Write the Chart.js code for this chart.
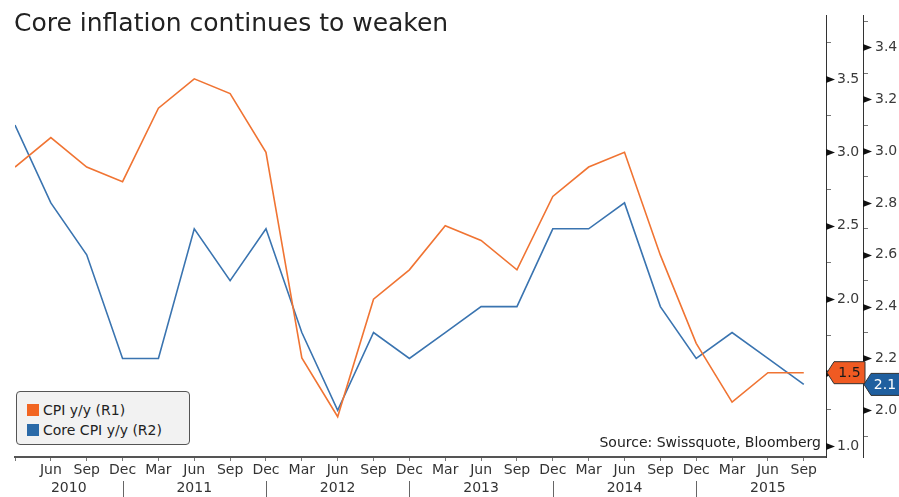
<!DOCTYPE html>
<html lang="en">
<head>
    <meta charset="UTF-8">
    <title>Core inflation continues to weaken</title>
    <script src="https://cdn.jsdelivr.net/npm/chart.js"></script>
    <style>
        body {
            margin: 0;
            background-color: #ffffff;
            font-family: "DejaVu Sans", sans-serif;
        }
        .wrap {
            position: relative;
            width: 899px;
            height: 497px;
        }
        .title {
            position: absolute;
            left: 14px;
            top: 8px;
            font-size: 25px;
            color: #222;
            white-space: nowrap;
        }
        .legend {
            position: absolute;
            left: 16px;
            top: 391px;
            width: 174px;
            height: 54px;
            border: 1px solid #555;
            border-radius: 4px;
            background-color: #f2f2f2;
            font-size: 14px;
            color: #222;
            padding: 8px 0 0 10px;
            box-sizing: border-box;
        }
        .legend div {
            height: 20px;
            line-height: 20px;
            white-space: nowrap;
        }
        .legend span.sw {
            display: inline-block;
            width: 12px;
            height: 12px;
            margin-right: 4px;
            vertical-align: -1px;
        }
        .source {
            position: absolute;
            right: 78px;
            top: 434px;
            font-size: 14px;
            color: #222;
            white-space: nowrap;
        }
    </style>
</head>
<body>
    <div class="wrap">
        <canvas id="cpiChart" width="899" height="497"></canvas>
        <div class="title">Core inflation continues to weaken</div>
        <div class="legend" id="legend"></div>
        <div class="source">Source: Swissquote, Bloomberg</div>
    </div>

    <script>
        // quarterly observations, Mar 2010 .. Sep 2015
        const months = ['Mar', 'Jun', 'Sep', 'Dec'];
        const years = ['2010', '2011', '2012', '2013', '2014', '2015'];
        const quarters = [
            'Mar 2010', 'Jun 2010', 'Sep 2010', 'Dec 2010',
            'Mar 2011', 'Jun 2011', 'Sep 2011', 'Dec 2011',
            'Mar 2012', 'Jun 2012', 'Sep 2012', 'Dec 2012',
            'Mar 2013', 'Jun 2013', 'Sep 2013', 'Dec 2013',
            'Mar 2014', 'Jun 2014', 'Sep 2014', 'Dec 2014',
            'Mar 2015', 'Jun 2015', 'Sep 2015'
        ];

        const cpi = [2.9, 3.1, 2.9, 2.8, 3.3, 3.5, 3.4, 3.0,
                     1.6, 1.2, 2.0, 2.2, 2.5, 2.4, 2.2, 2.7,
                     2.9, 3.0, 2.3, 1.7, 1.3, 1.5, 1.5];
        const coreCpi = [3.1, 2.8, 2.6, 2.2, 2.2, 2.7, 2.5, 2.7,
                         2.3, 2.0, 2.3, 2.2, 2.3, 2.4, 2.4, 2.7,
                         2.7, 2.8, 2.4, 2.2, 2.3, 2.2, 2.1];

        // labelled ticks on the two right-hand axes
        const r1Ticks = [1.0, 1.5, 2.0, 2.5, 3.0, 3.5];
        const r2Ticks = [2.0, 2.2, 2.4, 2.6, 2.8, 3.0, 3.2, 3.4];

        // where each year caption sits, in quarter index units
        const yearPos = [1.5, 5, 9, 13, 17, 21];

        const orange = '#f07433';
        const blue = '#3a74b0';

        function withMinor(major, half, lo, hi) {
            const all = [];
            major.forEach(v => { all.push(v - half, v, v + half); });
            return [...new Set(all.map(v => +v.toFixed(3)))]
                .filter(v => v >= lo && v <= hi)
                .sort((a, b) => a - b)
                .map(v => ({ value: v }));
        }

        function isMajor(list, v) {
            return list.some(t => Math.abs(t - v) < 1e-6);
        }

        const tickFont = { family: 'DejaVu Sans', size: 14 };

        // black pointers on the labelled ticks, year dividers, last-value tags
        const decorations = {
            id: 'decorations',
            afterDraw(chart) {
                const ctx = chart.ctx;
                ctx.save();

                [['y', r1Ticks], ['y2', r2Ticks]].forEach(([id, list]) => {
                    const s = chart.scales[id];
                    ctx.fillStyle = '#111';
                    list.forEach(v => {
                        const py = Math.round(s.getPixelForValue(v)) + 0.5;
                        ctx.beginPath();
                        ctx.moveTo(s.left, py - 3.5);
                        ctx.lineTo(s.left + 9, py);
                        ctx.lineTo(s.left, py + 3.5);
                        ctx.closePath();
                        ctx.fill();
                    });
                });

                // year dividers under the Dec labels
                const xs = chart.scales.x2;
                ctx.strokeStyle = '#666';
                ctx.lineWidth = 1;
                quarters.forEach((q, i) => {
                    if (q.startsWith('Dec')) {
                        const px = Math.round(xs.getPixelForValue(i)) + 0.5;
                        ctx.beginPath();
                        ctx.moveTo(px, 481);
                        ctx.lineTo(px, 497);
                        ctx.stroke();
                    }
                });

                // last value tags
                chart.data.datasets.forEach(ds => {
                    const s = chart.scales[ds.yAxisID];
                    const last = ds.data[ds.data.length - 1].y;
                    const py = s.getPixelForValue(last);
                    const x0 = s.left + 1;
                    const x1 = s.right + 2;
                    const h = 11;
                    ctx.beginPath();
                    ctx.moveTo(x0, py);
                    ctx.lineTo(x0 + 7, py - h);
                    ctx.lineTo(x1, py - h);
                    ctx.lineTo(x1, py + h);
                    ctx.lineTo(x0 + 7, py + h);
                    ctx.closePath();
                    ctx.fillStyle = ds.tagColor;
                    ctx.fill();
                    ctx.strokeStyle = '#333';
                    ctx.lineWidth = 1;
                    ctx.stroke();
                    ctx.fillStyle = ds.tagText;
                    ctx.font = '14px "DejaVu Sans"';
                    ctx.textAlign = 'center';
                    ctx.textBaseline = 'middle';
                    ctx.fillText(last.toFixed(1), (x0 + 7 + Math.min(x1, 899)) / 2, py + 1);
                });

                ctx.restore();
            }
        };

        const chart = new Chart(document.getElementById('cpiChart'), {
            type: 'line',
            data: {
                datasets: [{
                    label: 'CPI y/y (R1)',
                    data: cpi.map((v, i) => ({ x: i, y: v })),
                    borderColor: orange,
                    backgroundColor: '#f26522',
                    tagColor: '#f05a22',
                    tagText: '#1a1a1a',
                    borderWidth: 1.6,
                    pointRadius: 0,
                    tension: 0,
                    yAxisID: 'y'
                }, {
                    label: 'Core CPI y/y (R2)',
                    data: coreCpi.map((v, i) => ({ x: i, y: v })),
                    borderColor: blue,
                    backgroundColor: '#2b6aa8',
                    tagColor: '#1f5f9f',
                    tagText: '#ffffff',
                    borderWidth: 1.6,
                    pointRadius: 0,
                    tension: 0,
                    yAxisID: 'y2'
                }]
            },
            options: {
                responsive: false,
                animation: false,
                layout: { padding: { top: 12, left: 15, right: 0, bottom: 0 } },
                plugins: {
                    legend: { display: false },
                    tooltip: { enabled: false }
                },
                scales: {
                    x: {
                        type: 'linear',
                        position: 'bottom',
                        weight: 0,
                        min: 0,
                        max: quarters.length - 1 + 0.62,
                        afterBuildTicks: axis => {
                            axis.ticks = quarters.map((q, i) => ({ value: i }));
                        },
                        afterFit: axis => { axis.height = 22; },
                        grid: { drawOnChartArea: false, tickLength: 4, color: '#777' },
                        border: { color: '#555', width: 2 },
                        ticks: {
                            font: tickFont,
                            color: '#333',
                            padding: 1,
                            maxRotation: 0,
                            autoSkip: false,
                            callback: v => (v === 0 ? '' : quarters[v].split(' ')[0])
                        }
                    },
                    x2: {
                        type: 'linear',
                        position: 'bottom',
                        weight: 1,
                        min: 0,
                        max: quarters.length - 1 + 0.62,
                        afterBuildTicks: axis => {
                            axis.ticks = yearPos.map(p => ({ value: p }));
                        },
                        afterFit: axis => { axis.height = 18; },
                        grid: { display: false, drawTicks: false },
                        border: { display: false },
                        ticks: {
                            font: tickFont,
                            color: '#333',
                            padding: 1,
                            maxRotation: 0,
                            autoSkip: false,
                            callback: v => years[yearPos.indexOf(v)]
                        }
                    },
                    y: {
                        position: 'right',
                        weight: 0,
                        min: 0.926,
                        max: 3.932,
                        afterBuildTicks: axis => {
                            axis.ticks = withMinor(r1Ticks, 0.25, 0.926, 3.932);
                        },
                        afterFit: axis => { axis.width = 37; },
                        grid: { drawOnChartArea: false, tickLength: 5, color: '#777' },
                        border: { color: '#333', width: 1 },
                        ticks: {
                            font: tickFont,
                            color: '#3a3a3a',
                            padding: 6,
                            autoSkip: false,
                            callback: v => (isMajor(r1Ticks, v) ? v.toFixed(1) : '')
                        }
                    },
                    y2: {
                        position: 'right',
                        weight: 1,
                        min: 1.82,
                        max: 3.523,
                        afterBuildTicks: axis => {
                            axis.ticks = withMinor(r2Ticks, 0.1, 1.82, 3.523);
                        },
                        afterFit: axis => { axis.width = 36; },
                        grid: { drawOnChartArea: false, tickLength: 5, color: '#777' },
                        border: { color: '#333', width: 1 },
                        ticks: {
                            font: tickFont,
                            color: '#3a3a3a',
                            padding: 7,
                            autoSkip: false,
                            callback: v => (isMajor(r2Ticks, v) ? v.toFixed(1) : '')
                        }
                    }
                }
            },
            plugins: [decorations]
        });

        // legend built from the chart's datasets
        const legend = document.getElementById('legend');
        chart.data.datasets.forEach(ds => {
            const row = document.createElement('div');
            row.innerHTML = '<span class="sw" style="background:' + ds.backgroundColor + '"></span>' + ds.label;
            legend.appendChild(row);
        });
    </script>
</body>
</html>
